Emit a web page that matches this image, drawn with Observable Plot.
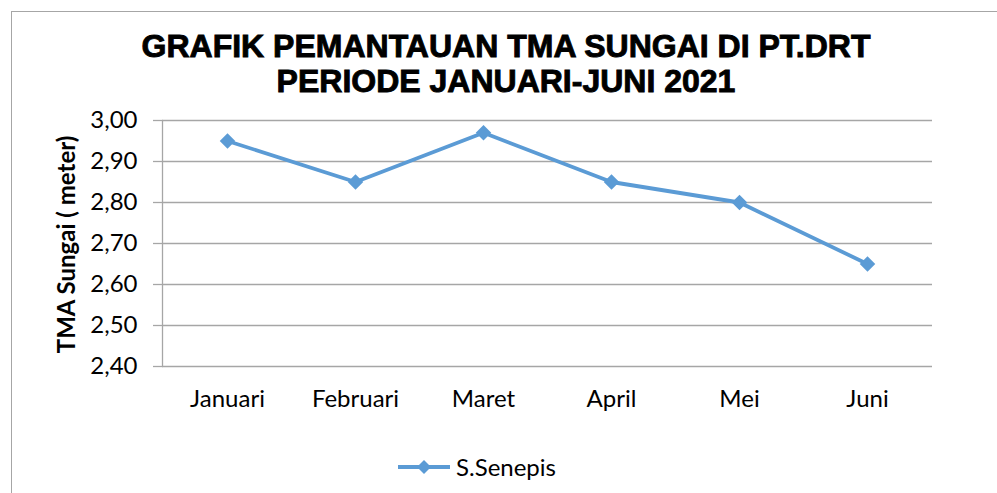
<!DOCTYPE html>
<html>
<head>
<meta charset="utf-8">
<script src="https://cdn.jsdelivr.net/npm/d3@7"></script>
<script src="https://cdn.jsdelivr.net/npm/@observablehq/plot@0.6"></script>
<style>
  html, body { margin: 0; padding: 0; background: #fff; }
  #wrap { position: relative; width: 997px; height: 493px; overflow: hidden; background: #fff; }
  #border { position: absolute; left: 11px; top: 11px; width: 1000px; height: 600px; border: 1.3px solid #a6a6a6; box-sizing: border-box; }
  #title { position: absolute; left: 0; top: 29px; width: 1012px; text-align: center; font-family: "Liberation Sans", Arial, sans-serif; font-weight: bold; font-size: 32px; line-height: 35px; color: #000; -webkit-text-stroke: 0.9px #000; }
  #chart { position: absolute; left: 0; top: 0; }
  #legend { position: absolute; left: 396px; top: 452px; display: flex; align-items: center; font-family: Lato, "Open Sans", sans-serif; font-size: 24px; color: #000; }
</style>
</head>
<body>
<div id="wrap">
  <div id="border"></div>
  <div id="chart"></div>
  <div id="title">GRAFIK PEMANTAUAN TMA SUNGAI DI PT.DRT<br>PERIODE JANUARI-JUNI 2021</div>
  <div id="legend"></div>
</div>
<script>
const months = ["Januari", "Februari", "Maret", "April", "Mei", "Juni"];
const values = [2.95, 2.85, 2.97, 2.85, 2.80, 2.65];
const seriesName = "S.Senepis";
const yTicks = [2.40, 2.50, 2.60, 2.70, 2.80, 2.90, 3.00];
const yLabel = "TMA Sungai ( meter)";

const data = months.map((m, i) => ({month: m, value: values[i]}));
const color = "#5b9bd5";
const grid = "#a6a6a6";
const fmt = d => d.toFixed(2).replace(".", ",");

const chart = Plot.plot({
  width: 997,
  height: 493,
  marginLeft: 162,
  marginRight: 65,
  marginTop: 120,
  marginBottom: 127,
  style: {fontFamily: "Lato, 'Open Sans', sans-serif", fontSize: "24px", color: "#000", background: "transparent"},
  x: {type: "point", domain: months, padding: 0.5, label: null},
  y: {domain: [2.4, 3.0], label: null},
  marks: [
    Plot.ruleY(yTicks, {stroke: grid, strokeWidth: 1.3}),
    Plot.axisY({ticks: yTicks, tickFormat: fmt, tickSize: 9, tickPadding: 16, stroke: grid, strokeWidth: 1.3, strokeOpacity: 1, fill: "#000", fontSize: 24, label: null}),
    Plot.frame({anchor: "left", stroke: grid, strokeWidth: 1.3}),
    Plot.axisX({tickSize: 0, tickPadding: 23, fill: "#000", fontSize: 24, label: null}),
    Plot.text([yLabel], {frameAnchor: "left", textAnchor: "middle", dx: -95, dy: 1, rotate: -90, fontWeight: "bold", fontSize: 24, fill: "#000"}),
    Plot.line(data, {x: "month", y: "value", stroke: color, strokeWidth: 3.8}),
    Plot.dot(data, {x: "month", y: "value", symbol: "diamond2", r: 7, fill: color, stroke: "none"})
  ]
});
document.getElementById("chart").appendChild(chart);

// legend
const lg = d3.select("#legend");
const sw = lg.append("svg").attr("width", 56).attr("height", 20);
sw.append("line").attr("x1", 2).attr("x2", 54).attr("y1", 10).attr("y2", 10).attr("stroke", color).attr("stroke-width", 3.8);
sw.append("path").attr("d", "M28,3 L35,10 L28,17 L21,10 Z").attr("fill", color);
lg.append("span").style("margin-left", "4px").text(seriesName);
</script>
</body>
</html>
